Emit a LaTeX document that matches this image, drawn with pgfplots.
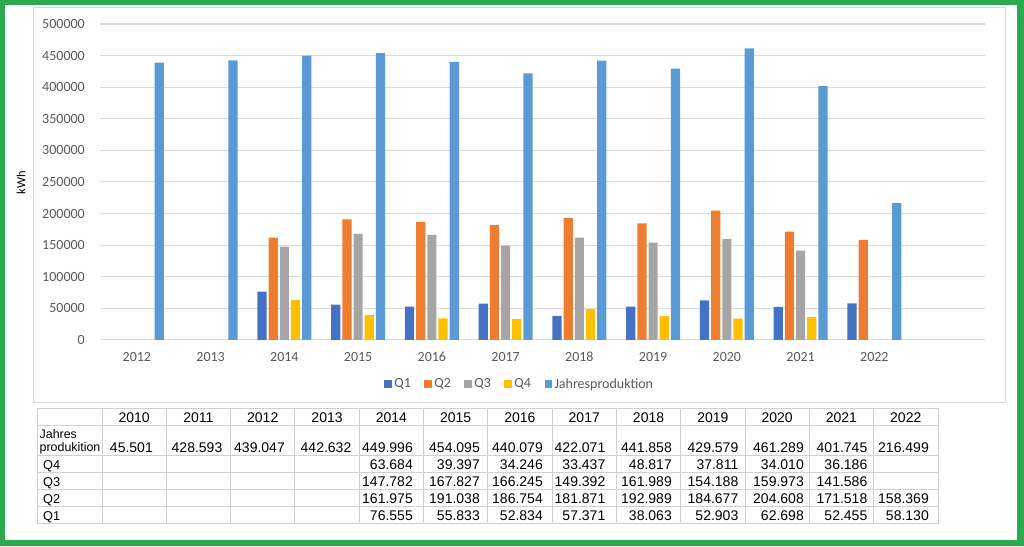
\documentclass[border=0pt]{standalone}
\usepackage{pgfplots}
\pgfplotsset{compat=1.18}
\usepackage{fontspec}
\setmainfont{Carlito}
\newfontfamily\arial{Liberation Sans}
\definecolor{qone}{HTML}{4472C4}
\definecolor{qtwo}{HTML}{ED7D31}
\definecolor{qthree}{HTML}{A5A5A5}
\definecolor{qfour}{HTML}{FFC000}
\definecolor{jahr}{HTML}{5B9BD5}
\definecolor{framegreen}{RGB}{44,170,80}
\definecolor{txtgray}{HTML}{595959}
\definecolor{gridgray}{HTML}{D9D9D9}
\definecolor{tabline}{HTML}{D0D0D0}
\pgfplotsset{sq/.style={legend image code/.code={\fill[##1] (0pt,-3.75pt) rectangle (7.5pt,3.75pt);}}}
\begin{document}
\begin{tikzpicture}
\useasboundingbox (0pt,0pt) rectangle (1024pt,546pt);
\begin{scope}[x=1pt,y=1pt]
\fill[framegreen] (0,0) rectangle (1024,546);
\fill[white] (5,6) rectangle (1017,541);
\draw[gridgray, line width=1pt] (33,143) rectangle (1005,538);
\node[rotate=90, font=\fontsize{12.5}{15}\selectfont] at (21,363) {kWh};
\end{scope}
\begin{axis}[
  at={(100pt,206pt)}, anchor=south west,
  scale only axis, width=885pt, height=316pt,
  xmin=-0.5, xmax=11.5, ymin=0, ymax=500000,
  ybar=2pt, bar width=9.2pt,
  xtick={0,...,10},
  xticklabels={2012,2013,2014,2015,2016,2017,2018,2019,2020,2021,2022},
  ytick={0,50000,100000,150000,200000,250000,300000,350000,400000,450000,500000},
  yticklabels={0,50000,100000,150000,200000,250000,300000,350000,400000,450000,500000},
  ymajorgrids, grid style={gridgray, line width=1pt},
  axis line style={draw=none},
  major tick length=0pt,
  tick label style={font=\fontsize{14}{16}\selectfont, text=txtgray},
  scaled y ticks=false,
  yticklabel style={anchor=east, inner sep=0pt, xshift=-15pt},
  xticklabel style={anchor=base, inner sep=0pt, yshift=-22pt},
  legend style={at={(0.4746,-0.1392)}, anchor=center, draw=none, fill=none,
    font=\fontsize{14}{16}\selectfont, text=txtgray,
    nodes={inner xsep=2.5pt},
    /tikz/every even column/.append style={column sep=11pt}},
  legend columns=-1,
  legend cell align=left,
]
\addplot[fill=qone, draw=none, sq] coordinates {(2,76555) (3,55833) (4,52834) (5,57371) (6,38063) (7,52903) (8,62698) (9,52455) (10,58130)};
\addplot[fill=qtwo, draw=none, sq] coordinates {(2,161975) (3,191038) (4,186754) (5,181871) (6,192989) (7,184677) (8,204608) (9,171518) (10,158369)};
\addplot[fill=qthree, draw=none, sq] coordinates {(2,147782) (3,167827) (4,166245) (5,149392) (6,161989) (7,154188) (8,159973) (9,141586)};
\addplot[fill=qfour, draw=none, sq] coordinates {(2,63684) (3,39397) (4,34246) (5,33437) (6,48817) (7,37811) (8,34010) (9,36186)};
\addplot[fill=jahr, draw=none, sq] coordinates {(0,439047) (1,442632) (2,449996) (3,454095) (4,440079) (5,422071) (6,441858) (7,429579) (8,461289) (9,401745) (10,216499)};
\legend{Q1,Q2,Q3,Q4,Jahresproduktion}
\end{axis}
\begin{scope}[x=1pt,y=1pt, font=\arial\fontsize{14}{16}\selectfont]
\draw[tabline, line width=1pt] (37,137) rectangle (938,23);
\foreach \y in {121,91,74,57,40} \draw[tabline, line width=1pt] (37,\y) -- (938,\y);
\foreach \k in {0,...,12} \draw[tabline, line width=1pt] ({102+64.3*\k},137) -- ({102+64.3*\k},23);
\foreach \yr [count=\i from 0] in {2010,2011,2012,2013,2014,2015,2016,2017,2018,2019,2020,2021,2022}
  \node[anchor=base, inner sep=0pt] at ({102+64.3*\i+32.15},123.3) {\yr};
\node[anchor=base west, inner sep=0pt, font=\arial\fontsize{12.4}{14}\selectfont] at (39.5,108) {Jahres};
\node[anchor=base west, inner sep=0pt, font=\arial\fontsize{12.4}{14}\selectfont] at (39.5,94.3) {produkition};
\foreach \r/\t in {76.3/Q4,59.3/Q3,42.3/Q2,25.3/Q1}
  \node[anchor=base west, inner sep=0pt, font=\arial\fontsize{12.8}{14}\selectfont] at (43,\r) {\t};
\foreach \x/\v in {153/45.501,222.5/428.593,285/439.047,351.5/442.632,413/449.996,480/454.095,543/440.079,605.5/422.071,672/441.858,738.5/429.579,804/461.289,867.5/401.745,929/216.499}
  \node[anchor=base east, inner sep=0pt] at (\x,93.3) {\v};
\foreach \x/\v in {413/63.684,480/39.397,543/34.246,605.5/33.437,672/48.817,738.5/37.811,804/34.010,867.5/36.186}
  \node[anchor=base east, inner sep=0pt] at (\x,76.3) {\v};
\foreach \x/\v in {413/147.782,480/167.827,543/166.245,605.5/149.392,672/161.989,738.5/154.188,804/159.973,867.5/141.586}
  \node[anchor=base east, inner sep=0pt] at (\x,59.3) {\v};
\foreach \x/\v in {413/161.975,480/191.038,543/186.754,605.5/181.871,672/192.989,738.5/184.677,804/204.608,867.5/171.518,929/158.369}
  \node[anchor=base east, inner sep=0pt] at (\x,42.3) {\v};
\foreach \x/\v in {413/76.555,480/55.833,543/52.834,605.5/57.371,672/38.063,738.5/52.903,804/62.698,867.5/52.455,929/58.130}
  \node[anchor=base east, inner sep=0pt] at (\x,25.3) {\v};
\end{scope}
\end{tikzpicture}
\end{document}
